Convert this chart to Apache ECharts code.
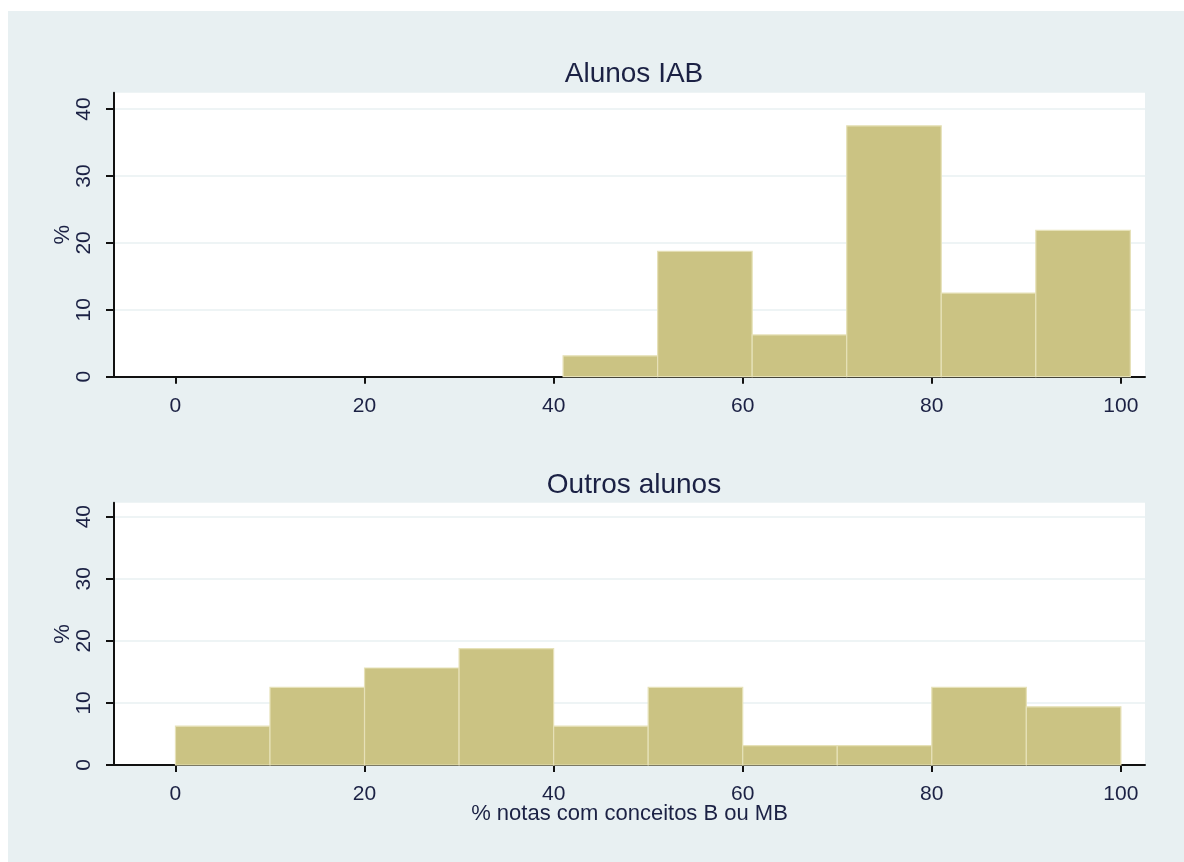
<!DOCTYPE html>
<html>
<head>
<meta charset="utf-8">
<script src="https://cdn.jsdelivr.net/npm/echarts@6/dist/echarts.min.js"></script>
<style>
  html, body { margin: 0; padding: 0; background: #fff; }
  #chart { position: absolute; left: 8px; top: 11px; width: 1176px; height: 851px; background: #E8F0F2; }
</style>
</head>
<body>
<div id="chart"></div>
<script>
// histogram bins (width 10) and percentages
const binWidth = 10;
const iabStarts = [41, 51, 61, 71, 81, 91];
const iabPct = [3.125, 18.75, 6.25, 37.5, 12.5, 21.875];
const otherStarts = [0, 10, 20, 30, 40, 50, 60, 70, 80, 90];
const otherPct = [6.25, 12.5, 15.625, 18.75, 6.25, 12.5, 3.125, 3.125, 12.5, 9.375];
const xTicks = [0, 20, 40, 60, 80, 100];
const yTicks = [0, 10, 20, 30, 40];

const FONT = "Liberation Sans, Arial, sans-serif";
const TXT = "#1b2144";
const BAR = "#CBC383";
const BAR_EDGE = "#E6E1B8";

function histData(starts, vals) {
  return starts.map((s, i) => [s, s + binWidth, vals[i]]);
}

function renderBin(params, api) {
  const p0 = api.coord([api.value(0), 0]);
  const p1 = api.coord([api.value(1), api.value(2)]);
  return {
    type: "rect",
    shape: { x: p0[0], y: p1[1], width: p1[0] - p0[0], height: p0[1] - p1[1] },
    style: { fill: BAR, stroke: BAR_EDGE, lineWidth: 1.2 }
  };
}

function xAxis(idx, withName) {
  return {
    gridIndex: idx,
    type: "value",
    min: -6.5,
    max: 102.55,
    name: withName ? "% notas com conceitos B ou MB" : "",
    nameLocation: "middle",
    nameGap: 38,
    nameMoveOverlap: false,
    nameTextStyle: { fontFamily: FONT, fontSize: 22, color: TXT },
    axisLine: { show: true, onZero: false, lineStyle: { color: "#111", width: 2 } },
    axisTick: { show: true, length: 7, customValues: xTicks, lineStyle: { color: "#111", width: 2 } },
    axisLabel: { customValues: xTicks, margin: 19, fontFamily: FONT, fontSize: 21, color: TXT },
    splitLine: { show: false }
  };
}

function yAxis(idx, max) {
  return {
    gridIndex: idx,
    type: "value",
    min: 0,
    max: max,
    name: "%",
    nameLocation: "middle",
    nameGap: 40,
    nameMoveOverlap: false,
    nameRotate: 90,
    nameTextStyle: { fontFamily: FONT, fontSize: 22, color: TXT },
    axisLine: { show: true, onZero: false, lineStyle: { color: "#111", width: 2 } },
    axisTick: { show: true, length: 8, customValues: yTicks, lineStyle: { color: "#111", width: 2 } },
    axisLabel: { customValues: yTicks, rotate: 90, margin: 19, fontFamily: FONT, fontSize: 21, color: TXT },
    splitLine: { show: true, lineStyle: { color: "#E8F0F2", width: 1.5 } }
  };
}

const chart = echarts.init(document.getElementById("chart"));
chart.setOption({
  animation: false,
  title: [
    { text: "Alunos IAB", left: 621, top: 44, textAlign: "center",
      textStyle: { fontFamily: FONT, fontSize: 28, fontWeight: "normal", color: TXT } },
    { text: "Outros alunos", left: 621, top: 455, textAlign: "center",
      textStyle: { fontFamily: FONT, fontSize: 28, fontWeight: "normal", color: TXT } }
  ],
  grid: [
    { left: 106, right: 39, top: 81.7, height: 284, show: true, backgroundColor: "#fff", borderWidth: 0 },
    { left: 106, right: 39, top: 491.7, height: 262.3, show: true, backgroundColor: "#fff", borderWidth: 0 }
  ],
  xAxis: [xAxis(0, false), xAxis(1, true)],
  yAxis: [yAxis(0, 42.45), yAxis(1, 42.25)],
  series: [
    { type: "custom", xAxisIndex: 0, yAxisIndex: 0, renderItem: renderBin,
      encode: { x: [0, 1], y: 2 }, data: histData(iabStarts, iabPct) },
    { type: "custom", xAxisIndex: 1, yAxisIndex: 1, renderItem: renderBin,
      encode: { x: [0, 1], y: 2 }, data: histData(otherStarts, otherPct) }
  ]
});
</script>
</body>
</html>
